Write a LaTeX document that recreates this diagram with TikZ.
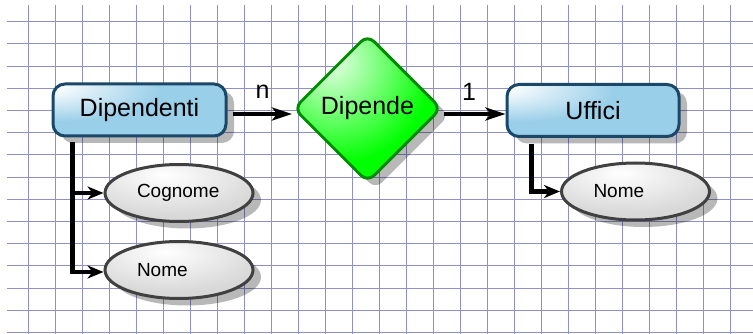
\documentclass[tikz,border=0pt]{standalone}
\usepackage{fontspec}
\setmainfont{Liberation Sans}
\usetikzlibrary{shapes.geometric,shadows,arrows.meta}
\definecolor{gridc}{HTML}{9090C8}
\definecolor{boxblue}{HTML}{9ACFE9}
\definecolor{boxline}{HTML}{1B4868}
\definecolor{relgreen}{HTML}{00FF00}
\definecolor{relline}{HTML}{008C00}
\definecolor{ellgray}{HTML}{D8D8D8}
\definecolor{ellline}{HTML}{404040}
\pgfdeclareradialshading{hlblue}{\pgfpoint{-30bp}{24bp}}{color(0bp)=(white);color(4bp)=(white);color(30bp)=(boxblue);color(150bp)=(boxblue)}
\pgfdeclareradialshading{hlgreen}{\pgfpoint{-13bp}{17bp}}{color(0bp)=(white);color(3bp)=(white!85!relgreen);color(32bp)=(relgreen);color(150bp)=(relgreen)}
\pgfdeclareradialshading{hlgray}{\pgfpoint{-5bp}{16bp}}{color(0bp)=(white);color(32bp)=(ellgray);color(150bp)=(ellgray)}
\tikzset{
  gridline/.style={draw=gridc, line width=1pt},
  shad/.style={drop shadow={shadow xshift=8pt, shadow yshift=-7pt, fill=black, opacity=0.28}},
  ent/.style={rectangle, rounded corners=12pt, draw=boxline, line width=3pt, shading=hlblue,
    minimum height=52pt, inner sep=0pt, font=\fontsize{25}{30}\selectfont, shad},
  rel/.style={diamond, rounded corners=9pt, draw=relline, line width=3pt, shading=hlgreen,
    minimum width=148pt, minimum height=148pt, inner sep=0pt, font=\fontsize{25}{30}\selectfont, shad},
  attr/.style={ellipse, draw=ellline, line width=3pt, shading=hlgray, minimum width=148pt,
    minimum height=57pt, inner sep=0pt, text width=84pt, align=left,
    font=\fontsize{19}{23}\selectfont, shad},
  lbl/.style={inner sep=0pt, font=\fontsize{25}{30}\selectfont},
  conn/.style={draw=black, line width=4.5pt},
  bigtip/.style={-{Stealth[length=20pt,width=13pt,inset=5pt]}},
  smalltip/.style={-{Stealth[length=16pt,width=13pt,inset=5pt]}}
}
\begin{document}
\begin{tikzpicture}[x=1pt,y=-1pt]
\useasboundingbox (0,0) rectangle (753,334);
\fill[white] (0,0) rectangle (753,334);
\foreach \i in {0,...,26} \draw[gridline] ({28.3+27*\i},5) -- ({28.3+27*\i},334);
\foreach \j in {0,...,14} \draw[gridline] (7,{21.7+22.2*\j}) -- (753,{21.7+22.2*\j});

\node[ent, minimum width=173pt] (dip) at (139.5,110) {Dipendenti};
\node[ent, minimum width=172pt] (uff) at (593,110.5) {Uffici};
\node[rel] (rel) at (367.5,108.5) {Dipende};
\node[attr] (cogn) at (179,193) {Cognome};
\node[attr] (nome1) at (179,270) {Nome};
\node[attr] (nome2) at (635.5,191.5) {Nome};

\node[lbl] (ln) at (262.5,92) {n};
\node[lbl] (l1) at (469,91.5) {1};

\coordinate (a1) at ([xshift=5pt,yshift=-4pt]dip.east);
\coordinate (a2) at ([xshift=1pt,yshift=-5.5pt]rel.east);
\draw[conn, bigtip] (a1) -- (a1 -| rel.west);
\draw[conn, bigtip] (a2) -- (a2 -| uff.west);

\coordinate (d0) at ([xshift=21pt,yshift=-5pt]dip.south west);
\coordinate (u0) at ([xshift=26pt,yshift=-6pt]uff.south west);
\draw[conn, smalltip] (d0) |- (cogn.west);
\draw[conn, smalltip] (d0) |- ([yshift=-2pt]nome1.west);
\draw[conn, smalltip] (u0) |- (nome2.west);
\end{tikzpicture}
\end{document}
